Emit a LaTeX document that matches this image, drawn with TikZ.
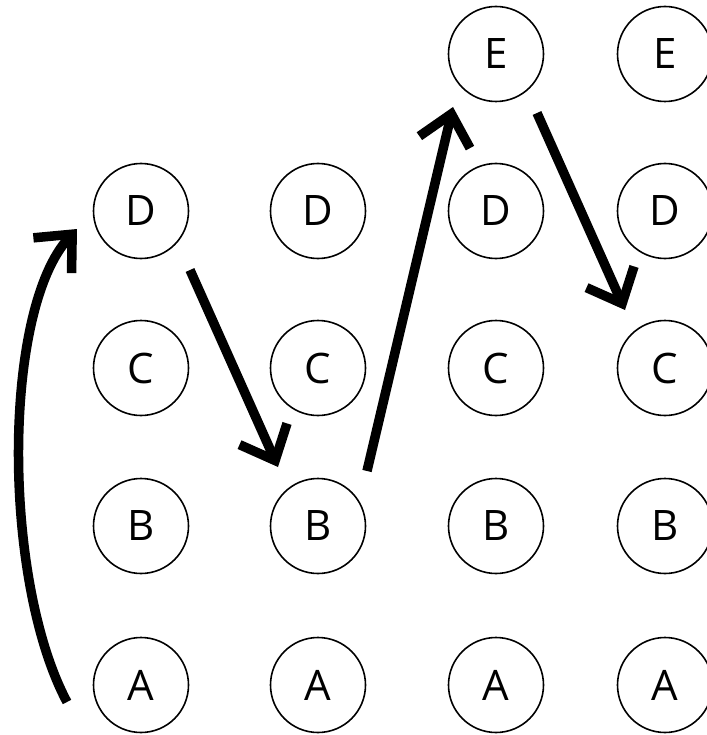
\documentclass[tikz,border=0pt]{standalone}
\usepackage{fontspec}
\setmainfont{Open Sans}
\usetikzlibrary{arrows.meta}

\begin{document}
\begin{tikzpicture}[x=1pt,y=-1pt,
every node/.style={circle, draw, line width=1.6pt, minimum size=95pt, inner sep=0pt, font=\fontsize{42}{50}\selectfont},
jump/.style={line width=9.5pt, -{Straight Barb[length=29pt,width=52pt]}}]
\useasboundingbox (0,0) rectangle (706,735);
% grid of letters
\foreach \col/\x in {1/141,2/318,3/496,4/665}
  \foreach \row/\y in {A/685,B/526,C/368,D/211}
    \node (\row\col) at (\x,\y) {\row};
\node (E3) at (496,54) {E};
\node (E4) at (665,54) {E};
% moves
\draw[jump] ([shift={(-74,17)}]A1.center) .. controls (2,580) and (2,310) .. ([shift={(-64,18)}]D1.center);
\draw[jump] ([shift={(49,59)}]D1.center) -- ([shift={(-40,-59)}]B2.center);
\draw[jump] ([shift={(49,-55)}]B2.center) -- ([shift={(-43,53)}]E3.center);
\draw[jump] ([shift={(41,59)}]E3.center) -- ([shift={(-40,-58)}]C4.center);
\end{tikzpicture}
\end{document}
